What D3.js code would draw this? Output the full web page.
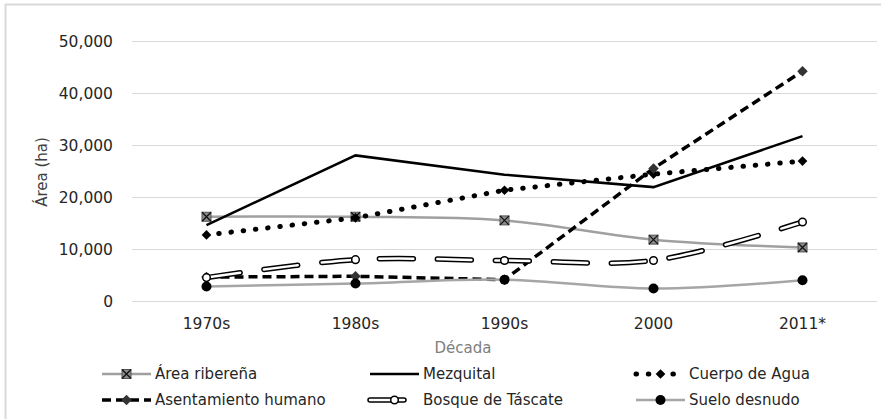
<!DOCTYPE html>
<html>
<head>
<meta charset="utf-8">
<script src="https://cdn.jsdelivr.net/npm/d3@7"></script>
<style>
  body { margin: 0; background: #fff; }
  svg { display: block; font-family: "DejaVu Sans", sans-serif; }
</style>
</head>
<body>
<div id="chart"></div>
<script>
// datos (ha)
const decadas = ["1970s", "1980s", "1990s", "2000", "2011*"];
const yTicks = [0, 10000, 20000, 30000, 40000, 50000];

const areaRiberena = [16200, 16200, 15500, 11800, 10300];
const mezquital = [14600, 28000, 24300, 21900, 31700];
const cuerpoAgua = [12700, 16000, 21300, 24400, 26900];
const asentamiento = [4600, 4750, 4100, 25500, 44200];
const bosqueTascate = [4500, 7950, 7800, 7800, 15200];
const sueloDesnudo = [2800, 3350, 4100, 2400, 4000];

const series = [
  { name: "Área ribereña", values: areaRiberena, kind: "ribera" },
  { name: "Mezquital", values: mezquital, kind: "mezquital" },
  { name: "Cuerpo de Agua", values: cuerpoAgua, kind: "agua" },
  { name: "Asentamiento humano", values: asentamiento, kind: "asent" },
  { name: "Bosque de Táscate", values: bosqueTascate, kind: "bosque" },
  { name: "Suelo desnudo", values: sueloDesnudo, kind: "suelo" }
];

const width = 881, height = 419;
const svg = d3.select("#chart").append("svg")
    .attr("width", width)
    .attr("height", height);

svg.append("rect").attr("width", width).attr("height", height).attr("fill", "#fff");

// borde del área del gráfico
svg.append("path")
    .attr("d", `M5.5,${height} V4.5 H${width}`)
    .attr("fill", "none")
    .attr("stroke", "#d9d9d9")
    .attr("stroke-width", 2);

const x = d3.scaleBand().domain(decadas).range([132, 877]).paddingInner(0).paddingOuter(0);
const y = d3.scaleLinear().domain([0, 50000]).range([301, 41]);
const cx = d => x(d) + x.bandwidth() / 2;

// rejilla
svg.append("g").selectAll("line")
    .data(yTicks)
    .join("line")
    .attr("x1", 132).attr("x2", 877)
    .attr("y1", d => Math.round(y(d)) + 0.5)
    .attr("y2", d => Math.round(y(d)) + 0.5)
    .attr("stroke", "#d9d9d9")
    .attr("stroke-width", 1);

// eje y
svg.append("g").selectAll("text")
    .data(yTicks)
    .join("text")
    .attr("x", 113)
    .attr("y", d => y(d))
    .attr("dy", "0.36em")
    .attr("text-anchor", "end")
    .attr("font-size", 15.5)
    .attr("fill", "#262626")
    .text(d3.format(","));

// eje x
svg.append("g").selectAll("text")
    .data(decadas)
    .join("text")
    .attr("x", cx)
    .attr("y", 329)
    .attr("text-anchor", "middle")
    .attr("font-size", 15.5)
    .attr("fill", "#262626")
    .text(d => d);

svg.append("text")
    .attr("transform", "translate(47,172) rotate(-90)")
    .attr("text-anchor", "middle")
    .attr("font-size", 15)
    .attr("fill", "#404040")
    .text("Área (ha)");

svg.append("text")
    .attr("x", 463)
    .attr("y", 353)
    .attr("text-anchor", "middle")
    .attr("font-size", 15)
    .attr("fill", "#808080")
    .text("Década");

// estilos de línea
function drawLine(g, pts, kind) {
  const straight = d3.line().x(d => d[0]).y(d => d[1]);
  const smooth = d3.line().x(d => d[0]).y(d => d[1]).curve(d3.curveCatmullRom.alpha(0.5));
  if (kind === "ribera") {
    g.append("path").attr("d", smooth(pts)).attr("fill", "none")
      .attr("stroke", "#a0a0a0").attr("stroke-width", 2.5);
  } else if (kind === "mezquital") {
    g.append("path").attr("d", straight(pts)).attr("fill", "none")
      .attr("stroke", "#000").attr("stroke-width", 2.5);
  } else if (kind === "agua") {
    g.append("path").attr("d", straight(pts)).attr("fill", "none")
      .attr("stroke", "#000").attr("stroke-width", 5)
      .attr("stroke-linecap", "round").attr("stroke-dasharray", "0.5,11.8");
  } else if (kind === "asent") {
    g.append("path").attr("d", straight(pts)).attr("fill", "none")
      .attr("stroke", "#000").attr("stroke-width", 3.5)
      .attr("stroke-dasharray", "9,5");
  } else if (kind === "bosque") {
    const d = smooth(pts);
    g.append("path").attr("d", d).attr("fill", "none")
      .attr("stroke", "#000").attr("stroke-width", 5.5)
      .attr("stroke-linecap", "round").attr("stroke-dasharray", "34,24");
    g.append("path").attr("d", d).attr("fill", "none")
      .attr("stroke", "#fff").attr("stroke-width", 2.5)
      .attr("stroke-linecap", "round").attr("stroke-dasharray", "34,24");
  } else if (kind === "suelo") {
    g.append("path").attr("d", smooth(pts)).attr("fill", "none")
      .attr("stroke", "#a6a6a6").attr("stroke-width", 2.5);
  }
}

function drawMarker(g, px, py, kind) {
  if (kind === "ribera") {
    const s = 4.5;
    g.append("rect").attr("x", px - s).attr("y", py - s).attr("width", 2 * s).attr("height", 2 * s)
      .attr("fill", "#8c8c8c").attr("stroke", "#555").attr("stroke-width", 1);
    g.append("path").attr("d", `M${px - s},${py - s}L${px + s},${py + s}M${px + s},${py - s}L${px - s},${py + s}`)
      .attr("stroke", "#111").attr("stroke-width", 1.3);
  } else if (kind === "agua") {
    g.append("path").attr("d", d3.symbol(d3.symbolDiamond2, 60)())
      .attr("transform", `translate(${px},${py})`).attr("fill", "#000");
  } else if (kind === "asent") {
    g.append("path").attr("d", d3.symbol(d3.symbolDiamond2, 70)())
      .attr("transform", `translate(${px},${py})`).attr("fill", "#333");
  } else if (kind === "bosque") {
    g.append("circle").attr("cx", px).attr("cy", py).attr("r", 3.8)
      .attr("fill", "#fff").attr("stroke", "#000").attr("stroke-width", 1.5);
  } else if (kind === "suelo") {
    g.append("circle").attr("cx", px).attr("cy", py).attr("r", 5)
      .attr("fill", "#000");
  }
}

const plot = svg.append("g");
series.forEach(s => {
  const g = plot.append("g");
  const pts = s.values.map((v, i) => [cx(decadas[i]), y(v)]);
  drawLine(g, pts, s.kind);
  pts.forEach(p => drawMarker(g, p[0], p[1], s.kind));
});

// leyenda
const legCols = [102, 370, 636];
const legRows = [374, 400];
series.forEach((s, i) => {
  const x0 = legCols[i % 3], y0 = legRows[Math.floor(i / 3)];
  const g = svg.append("g");
  drawLine(g, [[x0, y0], [x0 + 49, y0]], s.kind);
  drawMarker(g, x0 + 24.5, y0, s.kind);
  g.append("text")
    .attr("x", x0 + 53)
    .attr("y", y0)
    .attr("dy", "0.36em")
    .attr("font-size", 15)
    .attr("fill", "#262626")
    .text(s.name);
});
</script>
</body>
</html>
